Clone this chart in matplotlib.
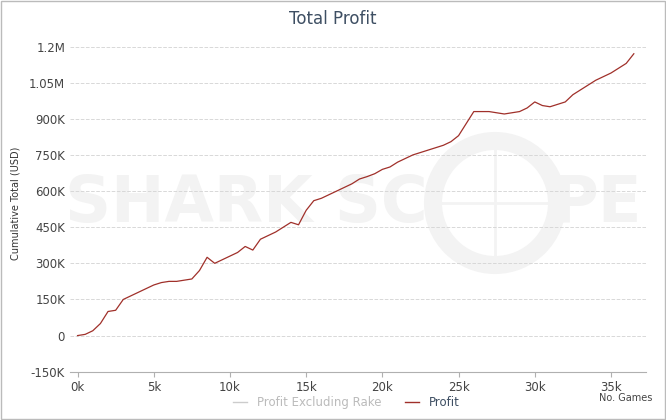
import matplotlib
matplotlib.use("Agg")
import matplotlib.pyplot as plt
from matplotlib.ticker import FuncFormatter
from matplotlib.patches import Circle
from matplotlib.lines import Line2D

games = [0,500,1000,1500,2000,2500,3000,3500,4000,4500,5000,5500,6000,6500,7000,7500,8000,8500,9000,9500,10000,10500,11000,11500,12000,12500,13000,13500,14000,14500,15000,15500,16000,16500,17000,17500,18000,18500,19000,19500,20000,20500,21000,21500,22000,22500,23000,23500,24000,24500,25000,25500,26000,26500,27000,27500,28000,28500,29000,29500,30000,30500,31000,31500,32000,32500,33000,33500,34000,34500,35000,35500,36000,36500]
profit = [0,5000,20000,50000,100000,105000,150000,165000,180000,195000,210000,220000,225000,225000,230000,235000,270000,325000,300000,315000,330000,345000,370000,355000,400000,415000,430000,450000,470000,460000,520000,560000,570000,585000,600000,615000,630000,650000,660000,672000,690000,700000,720000,735000,750000,760000,770000,780000,790000,805000,830000,880000,930000,930000,930000,925000,920000,925000,930000,945000,970000,955000,950000,960000,970000,1000000,1020000,1040000,1060000,1075000,1090000,1110000,1130000,1170000]

fig = plt.figure(figsize=(6.66,4.2), dpi=100)
wm = '#f3f3f3'
fig.text(0.37,0.515,"SHARK SC", fontsize=46, fontweight='bold', color=wm, ha='center', va='center', zorder=-5)
fig.text(0.895,0.515,"PE", fontsize=46, fontweight='bold', color=wm, ha='center', va='center', zorder=-5)
fig.patches.append(Circle((4.95,2.17),0.62, transform=fig.dpi_scale_trans, fill=False, ec=wm, lw=13, zorder=-5))
fig.add_artist(Line2D([4.95,4.95],[1.6,2.75], transform=fig.dpi_scale_trans, color=wm, lw=2, zorder=-5))
fig.add_artist(Line2D([4.4,5.5],[2.17,2.17], transform=fig.dpi_scale_trans, color=wm, lw=2, zorder=-5))

ax = fig.add_axes([0.105,0.115,0.865,0.8])
ax.set_zorder(5)
ax.patch.set_alpha(0)
ax.plot(games, profit, color="#a0302a", lw=0.9)
ax.set_xlim(-500, 37300)
ax.set_ylim(-150000, 1245000)
ax.set_yticks(range(-150000,1200001,150000))
ax.set_xticks(range(0,35001,5000))
def yf(v,p):
    if v==0: return "0"
    if abs(v)>=1000000: return f"{v/1e6:g}M"
    return f"{v/1e3:g}K"
ax.yaxis.set_major_formatter(FuncFormatter(yf))
ax.xaxis.set_major_formatter(FuncFormatter(lambda v,p: f"{v/1e3:g}k"))
ax.grid(axis='y', ls='--', color='#d8d8d8', lw=0.7)
for s in ['top','right','left']: ax.spines[s].set_visible(False)
ax.spines['bottom'].set_color('#b0b0b0')
ax.tick_params(axis='y', length=0, labelsize=8.5, colors='#444444')
ax.tick_params(axis='x', labelsize=8.5, colors='#444444', color='#b0b0b0')
ax.set_ylabel("Cumulative Total (USD)", fontsize=7, color='#333333', labelpad=6)
fig.text(0.5,0.955,"Total Profit", ha='center', va='center', fontsize=12, color='#3e4f63')
fig.text(0.9,0.045,"No. Games", fontsize=7, color='#444444')
h=[Line2D([],[],color='#cccccc',lw=1),Line2D([],[],color='#a0302a',lw=1)]
fig.legend(h,["Profit Excluding Rake","Profit"], loc='lower center', bbox_to_anchor=(0.52,0.0), ncol=2, frameon=False, fontsize=8.5, labelcolor=['#bbbbbb','#3e4f63'], handlelength=1.2)
fig.add_artist(plt.Rectangle((0.002,0.002),0.996,0.996, transform=fig.transFigure, fill=False, ec='#bbbbbb', lw=1))
fig.savefig("out.png", dpi=100)
